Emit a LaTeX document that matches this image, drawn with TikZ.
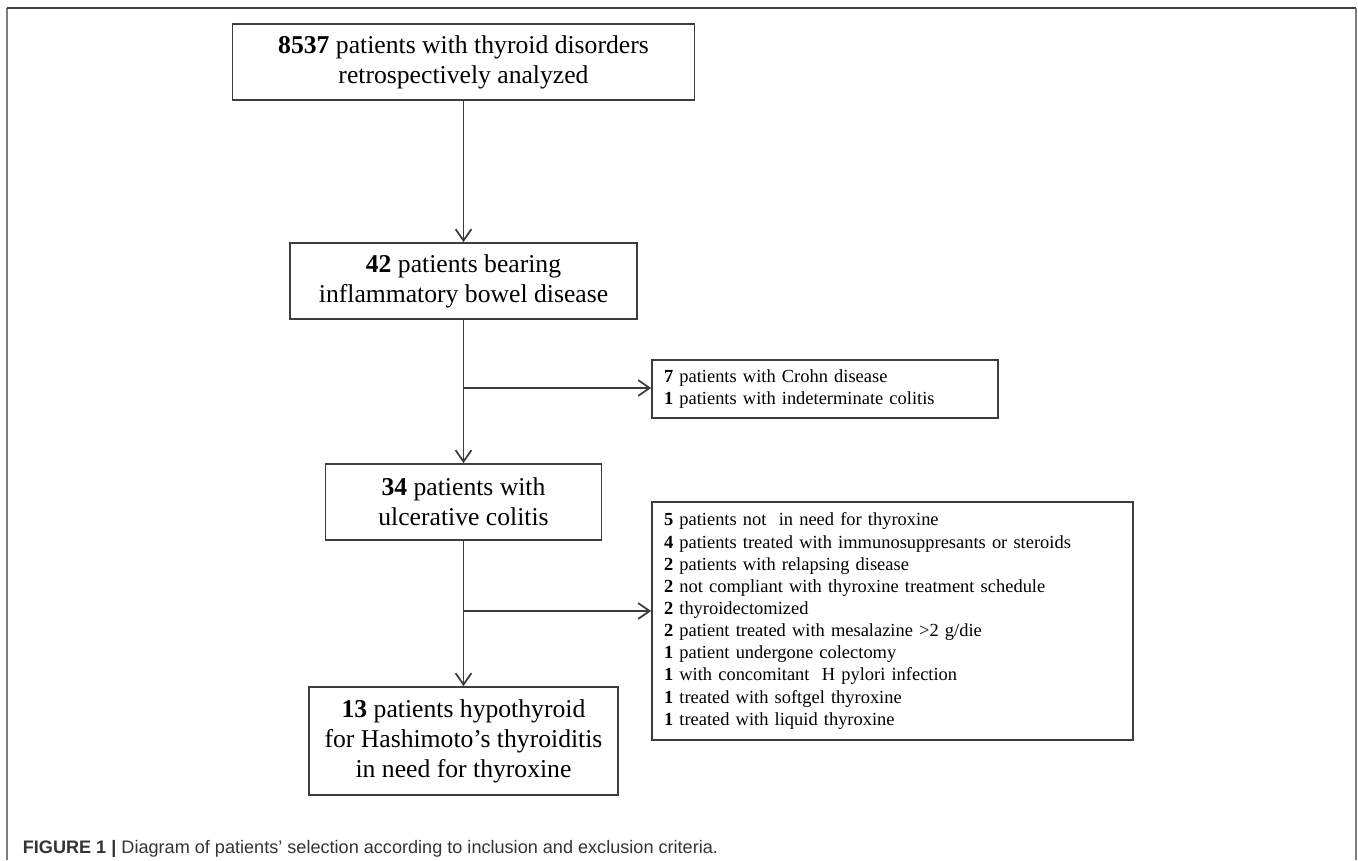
\documentclass[tikz,border=0pt]{standalone}
\usepackage{fontspec}
\setmainfont{Liberation Serif}
\newfontfamily\captionfont{Liberation Sans}
\definecolor{LineColor}{RGB}{60,60,60}
\definecolor{FrameColor}{RGB}{125,125,125}
\definecolor{CaptionColor}{RGB}{51,51,51}
\usetikzlibrary{positioning, arrows.meta}
\tikzstyle{arrow} = [line width=1pt, LineColor, -{Straight Barb[length=6.5pt,width=9pt]}]
\tikzstyle{stagebox} = [rectangle, draw=LineColor, line width=1pt, align=center, inner sep=0pt, font=\fontsize{14.6}{17.1}\selectfont]
\tikzstyle{exclbox} = [rectangle, draw=LineColor, line width=1pt, align=left, inner xsep=0.24cm, inner ysep=0pt, font=\fontsize{10.5}{12.6}\selectfont]

\begin{document}
\begin{tikzpicture}
    \useasboundingbox (0,0) rectangle (27.16,-17.2);

    % Frame
    \draw[FrameColor, line width=0.9pt] (0.14,-17.2) -- (0.14,-0.16);
    \draw[LineColor, line width=0.8pt] (0.14,-0.16) -- (27.12,-0.16);
    \draw[FrameColor, line width=1.2pt] (27.12,-0.16) -- (27.12,-17.2);

    % Selection steps
    \node[stagebox, minimum width=9.24cm, minimum height=1.52cm] (total) at (9.27,-1.24)
        {\textbf{8537} patients with thyroid disorders\\retrospectively analyzed};
    \node[stagebox, minimum width=6.94cm, minimum height=1.52cm] (ibd) at (9.27,-5.62)
        {\textbf{42} patients bearing\\inflammatory bowel disease};
    \node[stagebox, minimum width=5.52cm, minimum height=1.52cm] (uc) at (9.27,-10.04)
        {\textbf{34} patients with\\ulcerative colitis};
    \node[stagebox, minimum width=6.18cm, minimum height=2.16cm] (final) at (9.27,-14.82)
        {\textbf{13} patients hypothyroid\\for Hashimoto’s thyroiditis\\in need for thyroxine};

    % Exclusions
    \node[exclbox, text width=6.44cm, minimum height=1.16cm] (crohn) at (16.5,-7.78)
        {\textbf{7} patients with Crohn disease\\
         \textbf{1} patients with indeterminate colitis};
    \node[exclbox, text width=9.14cm, minimum height=4.76cm] (excl) at (17.85,-12.42)
        {\textbf{5} patients not\ \ in need for thyroxine\\
         \textbf{4} patients treated with immunosuppresants or steroids\\
         \textbf{2} patients with relapsing disease\\
         \textbf{2} not compliant with thyroxine treatment schedule\\
         \textbf{2} thyroidectomized\\
         \textbf{2} patient treated with mesalazine >2 g/die\\
         \textbf{1} patient undergone colectomy\\
         \textbf{1} with concomitant\ \ H pylori infection\\
         \textbf{1} treated with softgel thyroxine\\
         \textbf{1} treated with liquid thyroxine};

    % Arrows
    \draw[arrow] (total) -- (ibd);
    \draw[arrow] (ibd) -- (uc);
    \draw[arrow] (uc) -- (final);
    \coordinate (split1) at (9.27,-7.76);
    \coordinate (split2) at (9.27,-12.22);
    \draw[arrow] (split1) -- (split1 -| crohn.west);
    \draw[arrow] (split2) -- (split2 -| excl.west);

    % Caption
    \node[anchor=base west, inner sep=0pt, text=CaptionColor, font=\captionfont\fontsize{10.3}{12}\selectfont] (caption) at (0.45,-17.06)
        {\textbf{FIGURE 1 |} Diagram of patients’ selection according to inclusion and exclusion criteria.};
\end{tikzpicture}
\end{document}
